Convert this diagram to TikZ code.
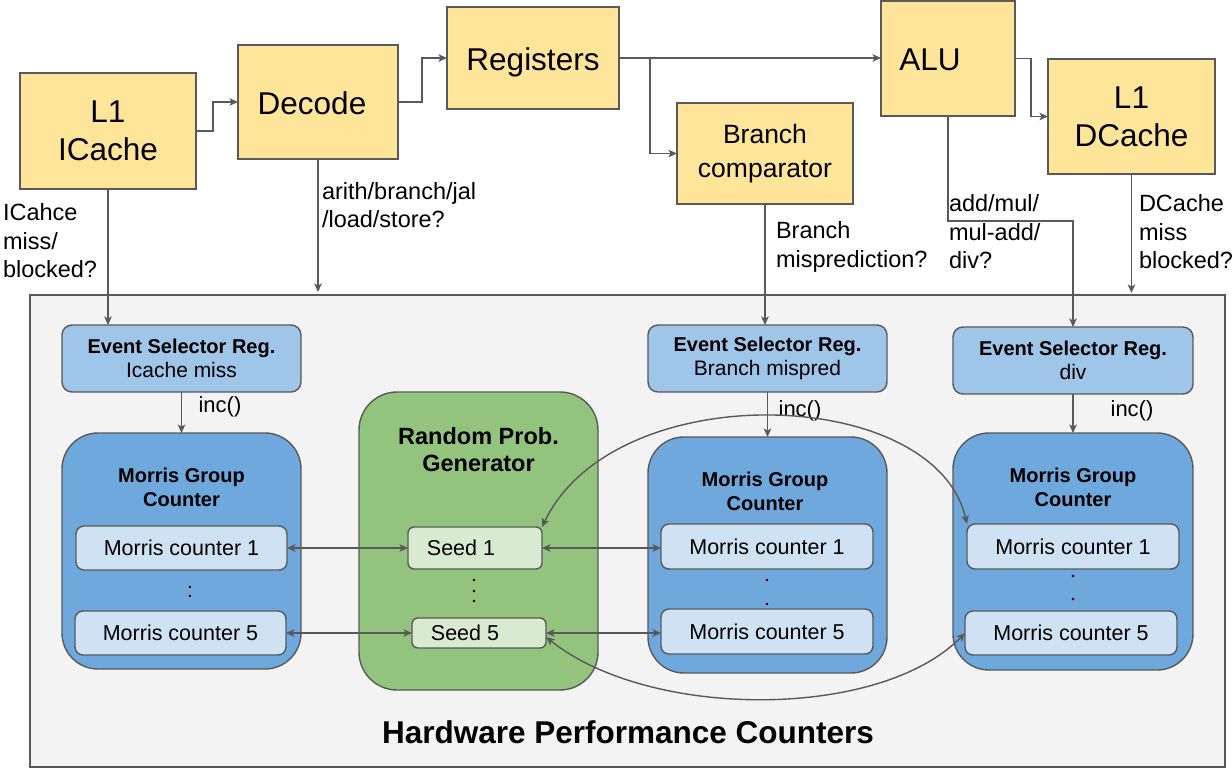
\documentclass[tikz,border=0pt]{standalone}
\usepackage{fontspec}
\setmainfont{Liberation Sans}
\usetikzlibrary{arrows.meta,calc}
\definecolor{yel}{HTML}{FFE599}
\definecolor{esblue}{HTML}{9FC5E8}
\definecolor{grpblue}{HTML}{6FA8DC}
\definecolor{ctrblue}{HTML}{CFE2F3}
\definecolor{rpggreen}{HTML}{93C47D}
\definecolor{seedgreen}{HTML}{D9EAD3}
\definecolor{bgc}{HTML}{F3F3F3}
\definecolor{lc}{HTML}{595959}
\newcommand\fsz[2]{\fontsize{#1}{#2}\selectfont}
\begin{document}
\begin{tikzpicture}[x=1pt,y=-1pt,
  every node/.style={inner sep=0pt, outer sep=0pt},
  ln/.style={draw=lc, line width=1.4pt},
  arr/.style={ln, -{Stealth[length=8.5pt,width=7.5pt,inset=2pt]}},
  darr/.style={ln, {Stealth[length=8.5pt,width=7.5pt,inset=2pt]}-{Stealth[length=8.5pt,width=7.5pt,inset=2pt]}},
  ybox/.style={draw=lc, line width=1.4pt, fill=yel, align=center, font=\fsz{31.5}{38}},
  esbox/.style={draw=lc, line width=1.4pt, fill=esblue, rounded corners=10pt, align=center, minimum width=239pt, minimum height=67pt},
  grpbox/.style={draw=lc, line width=1.4pt, fill=grpblue, rounded corners=36pt, minimum width=239pt, minimum height=236pt},
  ctrbox/.style={draw=lc, line width=1.4pt, fill=ctrblue, rounded corners=8pt, minimum width=211pt, minimum height=44pt, font=\fsz{21.5}{25}},
  seedbox/.style={draw=lc, line width=1.4pt, fill=seedgreen, rounded corners=6pt, minimum width=134pt},
  lbl/.style={anchor=west, align=left, font=\fsz{23.5}{28.5}},
  inclbl/.style={font=\fsz{22}{25}},
  grptitle/.style={align=center, font=\bfseries\fsz{20}{24}},
  txt/.style={text depth=0pt}
]
\useasboundingbox (0,0) rectangle (1232,769);

% big box
\node[draw=lc, line width=1.4pt, fill=bgc, minimum width=1195pt, minimum height=472pt] (hpc) at (627.5,531) {};
\node[font=\bfseries\fsz{31.5}{36}] (hpct) at (628,732) {Hardware Performance Counters};

% pipeline
\node[ybox, minimum width=176pt, minimum height=116pt] (icache) at (108,131) {L1\\ICache};
\node[ybox, minimum width=160pt, minimum height=114pt] (decode) at (318,102) {};
\node[txt, font=\fsz{31.5}{38}] (decodet) at (312,103) {Decode};
\node[ybox, minimum width=172pt, minimum height=102pt] (registers) at (533,58) {};
\node[txt, font=\fsz{31.5}{38}] (registerst) at (533,59) {Registers};
\node[ybox, minimum width=134pt, minimum height=115pt] (alu) at (948,58.5) {};
\node[txt, font=\fsz{31.5}{38}] (alut) at (930,60) {ALU};
\node[ybox, minimum width=167pt, minimum height=115pt] (dcache) at (1131.5,116.5) {L1\\DCache};
\node[ybox, minimum width=176pt, minimum height=101pt, font=\fsz{26.5}{34}] (branch) at (765,153.5) {Branch\\comparator};

% labels
\node[lbl] (lic) at (3,241) {ICahce\\miss/\\blocked?};
\node[lbl] (ldec) at (322,205) {arith/branch/jal\\/load/store?};
\node[lbl] (lbr) at (776,247) {Branch\\misprediction?};
\node[lbl] (lalu) at (949,232) {add/mul/\\mul-add/\\div?};
\node[lbl] (ldc) at (1139,232) {DCache\\miss\\blocked?};

% event selectors
\node[esbox] (es1) at (181.5,358.5) {\bfseries\fsz{20}{24}Event Selector Reg.\\[3pt]\mdseries\fsz{21}{24}Icache miss};
\node[esbox] (es2) at (767.5,358.5) {\bfseries\fsz{20}{24}Event Selector Reg.\\[3pt]\mdseries\fsz{21}{24}Branch mispred};
\node[esbox, minimum width=240pt] (es3) at (1073,360.5) {\bfseries\fsz{20}{24}Event Selector Reg.\\[3pt]\mdseries\fsz{21}{24}div};

% morris groups
\node[grpbox] (mg1) at (181.5,551) {};
\node[grpbox] (mg2) at (767.5,555) {};
\node[grpbox, minimum width=240pt, minimum height=237pt] (mg3) at (1073,551.5) {};
\node[grptitle] (mg1t) at (181.5,487) {Morris Group\\Counter};
\node[grptitle] (mg2t) at (765,491) {Morris Group\\Counter};
\node[grptitle] (mg3t) at (1073,487) {Morris Group\\Counter};

% random prob generator
\node[draw=lc, line width=1.4pt, fill=rpggreen, rounded corners=38pt, minimum width=239pt, minimum height=298pt] (rpg) at (478.5,541) {};
\node[align=center, font=\bfseries\fsz{23.5}{27}] (rpgt) at (478.5,450) {Random Prob.\\Generator};

% counters
\node[ctrbox] (mc11) at (181.5,548) {Morris counter 1};
\node[ctrbox] (mc15) at (180.5,633) {Morris counter 5};
\node[ctrbox, minimum width=212pt, minimum height=45pt] (mc21) at (767,546.5) {Morris counter 1};
\node[ctrbox, minimum width=212pt, minimum height=45pt] (mc25) at (767,631.5) {Morris counter 5};
\node[ctrbox, minimum width=212pt, minimum height=45pt] (mc31) at (1073,546.5) {Morris counter 1};
\node[ctrbox, minimum width=212pt] (mc35) at (1071,633) {Morris counter 5};

% seeds
\node[seedbox, minimum height=42pt] (seed1) at (475,548) {};
\node[seedbox, minimum height=30pt] (seed5) at (479,633) {};
\node[font=\fsz{21.5}{25}] (seed1t) at (461,548) {Seed 1};
\node[font=\fsz{21.5}{25}] (seed5t) at (465,633) {Seed 5};

% dots
\node[font=\fsz{21}{25}] (colon1) at (190,592) {:};
\fill (474,580) circle (1.4pt) (474,591) circle (1.4pt) (474,601) circle (1.4pt);
\fill (767,580) circle (1.4pt) (767,604) circle (1.4pt);
\fill (1073,576) circle (1.4pt) (1073,599) circle (1.4pt);

% inc labels
\node[inclbl] (inc1) at (220,407) {inc()};
\node[inclbl] (inc2) at (800,411) {inc()};
\node[inclbl] (inc3) at (1132,411) {inc()};

% pipeline connectors
\draw[arr] (icache.east) -- ++(17,0) |- (decode.west);
\draw[arr] (decode.east) -- ++(24,0) |- (registers.west);
\draw[arr] (registers.east) -- (alu.west |- registers.east);
\coordinate (rb) at (650,58);
\draw[arr] (rb) |- (branch.west);
\draw[arr] (alu.east) -- ++(16,0) |- (dcache.west);

% event connectors
\draw[arr] (icache.south) -- (icache.south |- es1.north);
\coordinate (decend) at (318,292);
\draw[arr] (decode.south) -- (decend);
\draw[arr] (branch.south) -- (branch.south |- es2.north);
\draw[arr] (alu.south) -- ++(0,105) -| (es3.north);
\coordinate (dcend) at (1131.5,293);
\draw[arr] (dcache.south) -- (dcend);

% inc connectors
\draw[arr] (es1.south) -- (mg1.north);
\draw[arr] (es2.south) -- (mg2.north);
\draw[arr] (es3.south) -- (mg3.north);

% seed connectors
\draw[darr] (mc11.east) -- (seed1.west);
\draw[darr] (mc15.east) -- (seed5.west);
\draw[darr] (seed1.east) -- (seed1.east -| mc21.west);
\draw[darr] (seed5.east) -- (seed5.east -| mc25.west);
\draw[darr] (seed1.north east) .. controls (615,375) and (935,385) .. (mc31.north west);
\draw[darr] ([yshift=-4pt]seed5.east) .. controls (650,720) and (880,720) .. (mc35.west);
\end{tikzpicture}
\end{document}
